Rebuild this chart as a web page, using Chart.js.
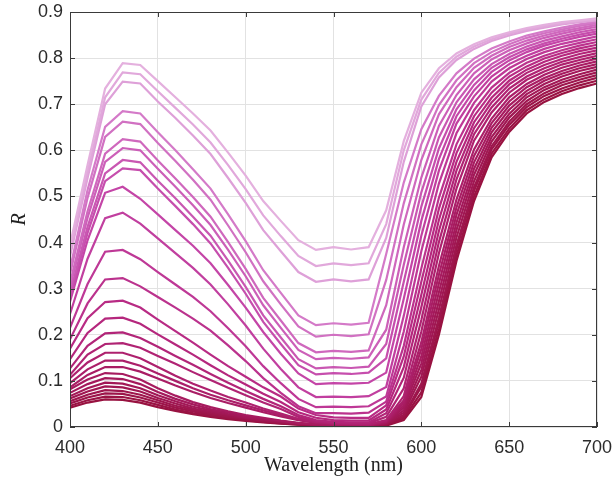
<!DOCTYPE html>
<html>
<head>
<meta charset="utf-8">
<script src="https://cdn.jsdelivr.net/npm/chart.js@4.4.0/dist/chart.umd.min.js"></script>
<style>
	html, body { margin: 0; padding: 0; background: #fff; }
</style>
</head>
<body>
<canvas id="chart" width="614" height="485"></canvas>
<script>
// wavelength grid (nm)
const wavelengths = [400, 410, 420, 430, 440, 450, 460, 470, 480, 490, 500, 510, 520, 530, 540, 550, 560, 570,
	580, 590, 600, 610, 620, 630, 640, 650, 660, 670, 680, 690, 700];

const xTickValues = [400, 450, 500, 550, 600, 650, 700];
const yTickValues = [0, 0.1, 0.2, 0.3, 0.4, 0.5, 0.6, 0.7, 0.8, 0.9];
const yTickLabels = ['0', '0.1', '0.2', '0.3', '0.4', '0.5', '0.6', '0.7', '0.8', '0.9'];

// reflectance curves, lightest (top) to darkest (bottom)
const refl01 = [0.395, 0.568, 0.734, 0.789, 0.785, 0.75, 0.715, 0.68, 0.643, 0.595, 0.545, 0.49, 0.447, 0.405, 0.384, 0.39, 0.385, 0.39,
	0.47, 0.62, 0.725, 0.778, 0.81, 0.83, 0.845, 0.856, 0.865, 0.872, 0.878, 0.882, 0.886];
const refl02 = [0.38, 0.553, 0.715, 0.769, 0.765, 0.728, 0.692, 0.656, 0.617, 0.568, 0.516, 0.459, 0.414, 0.371, 0.349, 0.355, 0.351, 0.355,
	0.44, 0.60, 0.71, 0.768, 0.803, 0.825, 0.841, 0.853, 0.862, 0.869, 0.875, 0.88, 0.884];
const refl03 = [0.37, 0.54, 0.70, 0.749, 0.745, 0.706, 0.67, 0.632, 0.592, 0.54, 0.486, 0.427, 0.381, 0.336, 0.315, 0.32, 0.316, 0.32,
	0.41, 0.575, 0.695, 0.758, 0.796, 0.82, 0.837, 0.849, 0.859, 0.866, 0.873, 0.878, 0.882];
const refl04 = [0.343, 0.514, 0.651, 0.685, 0.68, 0.639, 0.60, 0.559, 0.517, 0.461, 0.403, 0.34, 0.291, 0.242, 0.221, 0.225, 0.222, 0.226,
	0.375, 0.530, 0.646, 0.718, 0.767, 0.799, 0.821, 0.836, 0.849, 0.858, 0.866, 0.873, 0.879];
const refl05 = [0.331, 0.497, 0.629, 0.662, 0.657, 0.616, 0.577, 0.536, 0.493, 0.437, 0.379, 0.316, 0.266, 0.218, 0.196, 0.20, 0.197, 0.201,
	0.319, 0.485, 0.613, 0.698, 0.752, 0.789, 0.813, 0.830, 0.844, 0.854, 0.862, 0.870, 0.876];
const refl06 = [0.312, 0.468, 0.593, 0.624, 0.619, 0.578, 0.539, 0.499, 0.456, 0.401, 0.343, 0.28, 0.231, 0.182, 0.162, 0.165, 0.163, 0.166,
	0.264, 0.439, 0.579, 0.678, 0.737, 0.779, 0.805, 0.824, 0.838, 0.849, 0.858, 0.865, 0.872];
const refl07 = [0.303, 0.454, 0.575, 0.605, 0.60, 0.56, 0.521, 0.481, 0.438, 0.384, 0.327, 0.264, 0.215, 0.167, 0.147, 0.15, 0.148, 0.151,
	0.211, 0.390, 0.541, 0.653, 0.720, 0.767, 0.797, 0.817, 0.832, 0.844, 0.853, 0.861, 0.868];
const refl08 = [0.29, 0.434, 0.55, 0.579, 0.574, 0.534, 0.496, 0.456, 0.415, 0.361, 0.304, 0.242, 0.194, 0.147, 0.127, 0.13, 0.128, 0.131,
	0.180, 0.352, 0.509, 0.628, 0.704, 0.754, 0.787, 0.809, 0.825, 0.838, 0.847, 0.856, 0.863];
const refl09 = [0.281, 0.421, 0.533, 0.561, 0.557, 0.517, 0.479, 0.44, 0.398, 0.345, 0.289, 0.228, 0.18, 0.134, 0.114, 0.117, 0.115, 0.118,
	0.149, 0.315, 0.478, 0.604, 0.689, 0.742, 0.779, 0.802, 0.819, 0.832, 0.842, 0.851, 0.858];
const refl10 = [0.272, 0.405, 0.508, 0.521, 0.495, 0.461, 0.427, 0.393, 0.355, 0.308, 0.259, 0.206, 0.159, 0.116, 0.093, 0.095, 0.094, 0.096,
	0.118, 0.278, 0.447, 0.581, 0.674, 0.730, 0.770, 0.795, 0.813, 0.827, 0.837, 0.846, 0.853];
const refl11 = [0.245, 0.365, 0.453, 0.465, 0.441, 0.409, 0.377, 0.345, 0.309, 0.266, 0.22, 0.17, 0.126, 0.086, 0.065, 0.066, 0.065, 0.067,
	0.087, 0.241, 0.415, 0.556, 0.658, 0.717, 0.760, 0.787, 0.805, 0.820, 0.831, 0.839, 0.847];
const refl12 = [0.215, 0.31, 0.38, 0.384, 0.364, 0.336, 0.309, 0.282, 0.251, 0.214, 0.175, 0.132, 0.095, 0.061, 0.043, 0.044, 0.043, 0.045,
	0.066, 0.207, 0.381, 0.528, 0.637, 0.703, 0.749, 0.778, 0.798, 0.813, 0.824, 0.833, 0.841];
const refl13 = [0.19, 0.268, 0.32, 0.323, 0.305, 0.282, 0.259, 0.235, 0.209, 0.177, 0.143, 0.106, 0.074, 0.045, 0.03, 0.03, 0.029, 0.031,
	0.055, 0.176, 0.344, 0.497, 0.613, 0.687, 0.736, 0.768, 0.790, 0.805, 0.817, 0.827, 0.835];
const refl14 = [0.17, 0.236, 0.271, 0.274, 0.259, 0.233, 0.208, 0.183, 0.157, 0.132, 0.109, 0.086, 0.066, 0.04, 0.026, 0.021, 0.02, 0.02,
	0.047, 0.153, 0.315, 0.473, 0.594, 0.674, 0.725, 0.760, 0.782, 0.799, 0.811, 0.821, 0.829];
const refl15 = [0.147, 0.204, 0.235, 0.237, 0.224, 0.201, 0.179, 0.157, 0.134, 0.112, 0.092, 0.072, 0.054, 0.032, 0.02, 0.015, 0.014, 0.014,
	0.038, 0.130, 0.287, 0.449, 0.575, 0.661, 0.714, 0.751, 0.775, 0.792, 0.805, 0.815, 0.823];
const refl16 = [0.127, 0.176, 0.203, 0.205, 0.193, 0.174, 0.154, 0.135, 0.115, 0.096, 0.078, 0.061, 0.045, 0.026, 0.015, 0.011, 0.01, 0.01,
	0.030, 0.107, 0.260, 0.425, 0.556, 0.648, 0.704, 0.743, 0.768, 0.785, 0.798, 0.809, 0.817];
const refl17 = [0.113, 0.157, 0.18, 0.182, 0.172, 0.154, 0.137, 0.119, 0.102, 0.085, 0.069, 0.053, 0.039, 0.022, 0.013, 0.009, 0.008, 0.008,
	0.022, 0.084, 0.232, 0.401, 0.537, 0.635, 0.693, 0.734, 0.760, 0.778, 0.792, 0.802, 0.811];
const refl18 = [0.106, 0.14, 0.161, 0.161, 0.149, 0.13, 0.111, 0.094, 0.079, 0.065, 0.053, 0.04, 0.029, 0.018, 0.011, 0.008, 0.007, 0.006,
	0.015, 0.067, 0.207, 0.377, 0.517, 0.621, 0.682, 0.725, 0.753, 0.771, 0.786, 0.796, 0.805];
const refl19 = [0.095, 0.125, 0.144, 0.144, 0.133, 0.116, 0.1, 0.084, 0.07, 0.058, 0.047, 0.036, 0.026, 0.016, 0.01, 0.007, 0.006, 0.005,
	0.013, 0.058, 0.184, 0.349, 0.493, 0.602, 0.669, 0.715, 0.744, 0.764, 0.779, 0.790, 0.799];
const refl20 = [0.086, 0.113, 0.13, 0.13, 0.12, 0.105, 0.09, 0.076, 0.063, 0.052, 0.042, 0.032, 0.023, 0.015, 0.009, 0.006, 0.005, 0.004,
	0.012, 0.053, 0.169, 0.330, 0.476, 0.588, 0.659, 0.706, 0.737, 0.757, 0.772, 0.784, 0.793];
const refl21 = [0.082, 0.103, 0.117, 0.115, 0.103, 0.084, 0.068, 0.054, 0.043, 0.034, 0.026, 0.02, 0.014, 0.009, 0.006, 0.004, 0.004, 0.003,
	0.011, 0.047, 0.153, 0.311, 0.460, 0.574, 0.649, 0.697, 0.729, 0.751, 0.766, 0.778, 0.787];
const refl22 = [0.074, 0.093, 0.106, 0.104, 0.093, 0.076, 0.061, 0.049, 0.039, 0.031, 0.023, 0.018, 0.013, 0.008, 0.005, 0.004, 0.003, 0.003,
	0.009, 0.042, 0.138, 0.292, 0.443, 0.560, 0.639, 0.688, 0.722, 0.744, 0.760, 0.772, 0.781];
const refl23 = [0.067, 0.084, 0.096, 0.094, 0.084, 0.069, 0.056, 0.044, 0.036, 0.028, 0.021, 0.016, 0.012, 0.008, 0.005, 0.004, 0.003, 0.003,
	0.008, 0.036, 0.123, 0.273, 0.427, 0.547, 0.629, 0.679, 0.715, 0.737, 0.753, 0.765, 0.775];
const refl24 = [0.062, 0.077, 0.088, 0.086, 0.077, 0.063, 0.051, 0.04, 0.033, 0.026, 0.019, 0.015, 0.011, 0.007, 0.005, 0.003, 0.003, 0.003,
	0.007, 0.031, 0.109, 0.255, 0.411, 0.533, 0.619, 0.671, 0.707, 0.731, 0.747, 0.759, 0.769];
const refl25 = [0.056, 0.07, 0.08, 0.078, 0.07, 0.058, 0.046, 0.037, 0.03, 0.023, 0.018, 0.014, 0.01, 0.006, 0.004, 0.003, 0.002, 0.002,
	0.006, 0.026, 0.094, 0.237, 0.394, 0.520, 0.609, 0.662, 0.700, 0.724, 0.741, 0.753, 0.763];
const refl26 = [0.051, 0.064, 0.073, 0.072, 0.064, 0.053, 0.042, 0.034, 0.027, 0.021, 0.016, 0.012, 0.009, 0.006, 0.004, 0.003, 0.002, 0.002,
	0.005, 0.023, 0.087, 0.227, 0.385, 0.512, 0.602, 0.655, 0.694, 0.718, 0.734, 0.747, 0.757];
const refl27 = [0.046, 0.058, 0.066, 0.065, 0.058, 0.048, 0.038, 0.03, 0.024, 0.019, 0.015, 0.011, 0.008, 0.005, 0.003, 0.002, 0.002, 0.002,
	0.004, 0.019, 0.075, 0.213, 0.372, 0.500, 0.593, 0.647, 0.687, 0.711, 0.728, 0.741, 0.751];
const refl28 = [0.042, 0.053, 0.06, 0.059, 0.053, 0.043, 0.035, 0.028, 0.022, 0.017, 0.013, 0.01, 0.007, 0.005, 0.003, 0.002, 0.002, 0.002,
	0.003, 0.015, 0.065, 0.200, 0.360, 0.490, 0.585, 0.640, 0.680, 0.705, 0.722, 0.735, 0.745];

const curves = [refl01, refl02, refl03, refl04, refl05, refl06, refl07, refl08, refl09, refl10, refl11, refl12, refl13, refl14,
	refl15, refl16, refl17, refl18, refl19, refl20, refl21, refl22, refl23, refl24, refl25, refl26, refl27, refl28];

// light orchid -> magenta -> crimson
const colorStops = [
	[0, [228, 176, 222]],
	[0.075, [222, 160, 216]],
	[0.11, [212, 122, 200]],
	[0.33, [196, 70, 168]],
	[0.5, [182, 40, 128]],
	[0.75, [166, 26, 94]],
	[1, [152, 18, 64]],
];

function colorAt(t) {
	for (let i = 1; i < colorStops.length; i++) {
		const [t1, c1] = colorStops[i];
		const [t0, c0] = colorStops[i - 1];
		if (t <= t1) {
			const f = (t - t0) / (t1 - t0);
			const c = c0.map((v, k) => Math.round(v + (c1[k] - v) * f));
			return `rgb(${c[0]},${c[1]},${c[2]})`;
		}
	}
	return 'rgb(152,18,64)';
}

const datasets = curves.map((vals, i) => ({
	data: wavelengths.map((w, j) => ({ x: w, y: vals[j] })),
	borderColor: colorAt(i / (curves.length - 1)),
	borderWidth: 2.2,
	pointRadius: 0,
	tension: 0,
	fill: false,
}));

// MATLAB-style box with inward ticks
const boxPlugin = {
	id: 'box',
	afterDraw(chart) {
		const { ctx, chartArea: a, scales: { x, y } } = chart;
		ctx.save();
		ctx.strokeStyle = '#3a3a3a';
		ctx.lineWidth = 1;
		ctx.strokeRect(a.left + 0.5, a.top + 0.5, a.right - a.left - 1, a.bottom - a.top - 1);
		ctx.beginPath();
		x.ticks.forEach(t => {
			const px = Math.round(x.getPixelForValue(t.value)) + 0.5;
			ctx.moveTo(px, a.bottom); ctx.lineTo(px, a.bottom - 5);
			ctx.moveTo(px, a.top); ctx.lineTo(px, a.top + 5);
		});
		y.ticks.forEach(t => {
			const py = Math.round(y.getPixelForValue(t.value)) + 0.5;
			ctx.moveTo(a.left, py); ctx.lineTo(a.left + 5, py);
			ctx.moveTo(a.right, py); ctx.lineTo(a.right - 5, py);
		});
		ctx.stroke();
		ctx.restore();
	},
};

// drop the edge-label overflow padding so the plot box sits where the layout padding puts it
function noEdgePadding(scale) {
	scale.paddingLeft = 0;
	scale.paddingRight = 0;
	scale.paddingTop = 0;
	scale.paddingBottom = 0;
}

new Chart(document.getElementById('chart'), {
	type: 'line',
	data: { datasets },
	options: {
		responsive: false,
		animation: false,
		layout: { padding: { top: 12, right: 17, left: 0, bottom: 0 } },
		plugins: { legend: { display: false }, tooltip: { enabled: false } },
		scales: {
			x: {
				type: 'linear',
				min: 400,
				max: 700,
				afterBuildTicks: (scale) => { scale.ticks = xTickValues.map(v => ({ value: v })); },
				afterFit: (scale) => { scale.height = 58; noEdgePadding(scale); },
				grid: { color: '#e2e2e2', drawTicks: false },
				border: { display: false },
				ticks: {
					color: '#2b2b2b',
					padding: 10,
					maxRotation: 0,
					font: { family: 'Liberation Sans', size: 18 },
				},
				title: {
					display: true,
					text: 'Wavelength (nm)',
					color: '#222',
					padding: { top: 0, bottom: 7 },
					font: { family: 'Liberation Serif', size: 20 },
				},
			},
			y: {
				min: 0,
				max: 0.9,
				afterBuildTicks: (scale) => { scale.ticks = yTickValues.map(v => ({ value: v })); },
				afterFit: (scale) => { scale.width = 70; noEdgePadding(scale); },
				grid: { color: '#e2e2e2', drawTicks: false },
				border: { display: false },
				ticks: {
					color: '#2b2b2b',
					padding: 7,
					font: { family: 'Liberation Sans', size: 18 },
					callback: (value, index) => yTickLabels[index],
				},
				title: {
					display: true,
					text: 'R',
					color: '#222',
					padding: { top: 8, bottom: 0 },
					font: { family: 'Liberation Serif', size: 20, style: 'italic' },
				},
			},
		},
	},
	plugins: [boxPlugin],
});
</script>
</body>
</html>
